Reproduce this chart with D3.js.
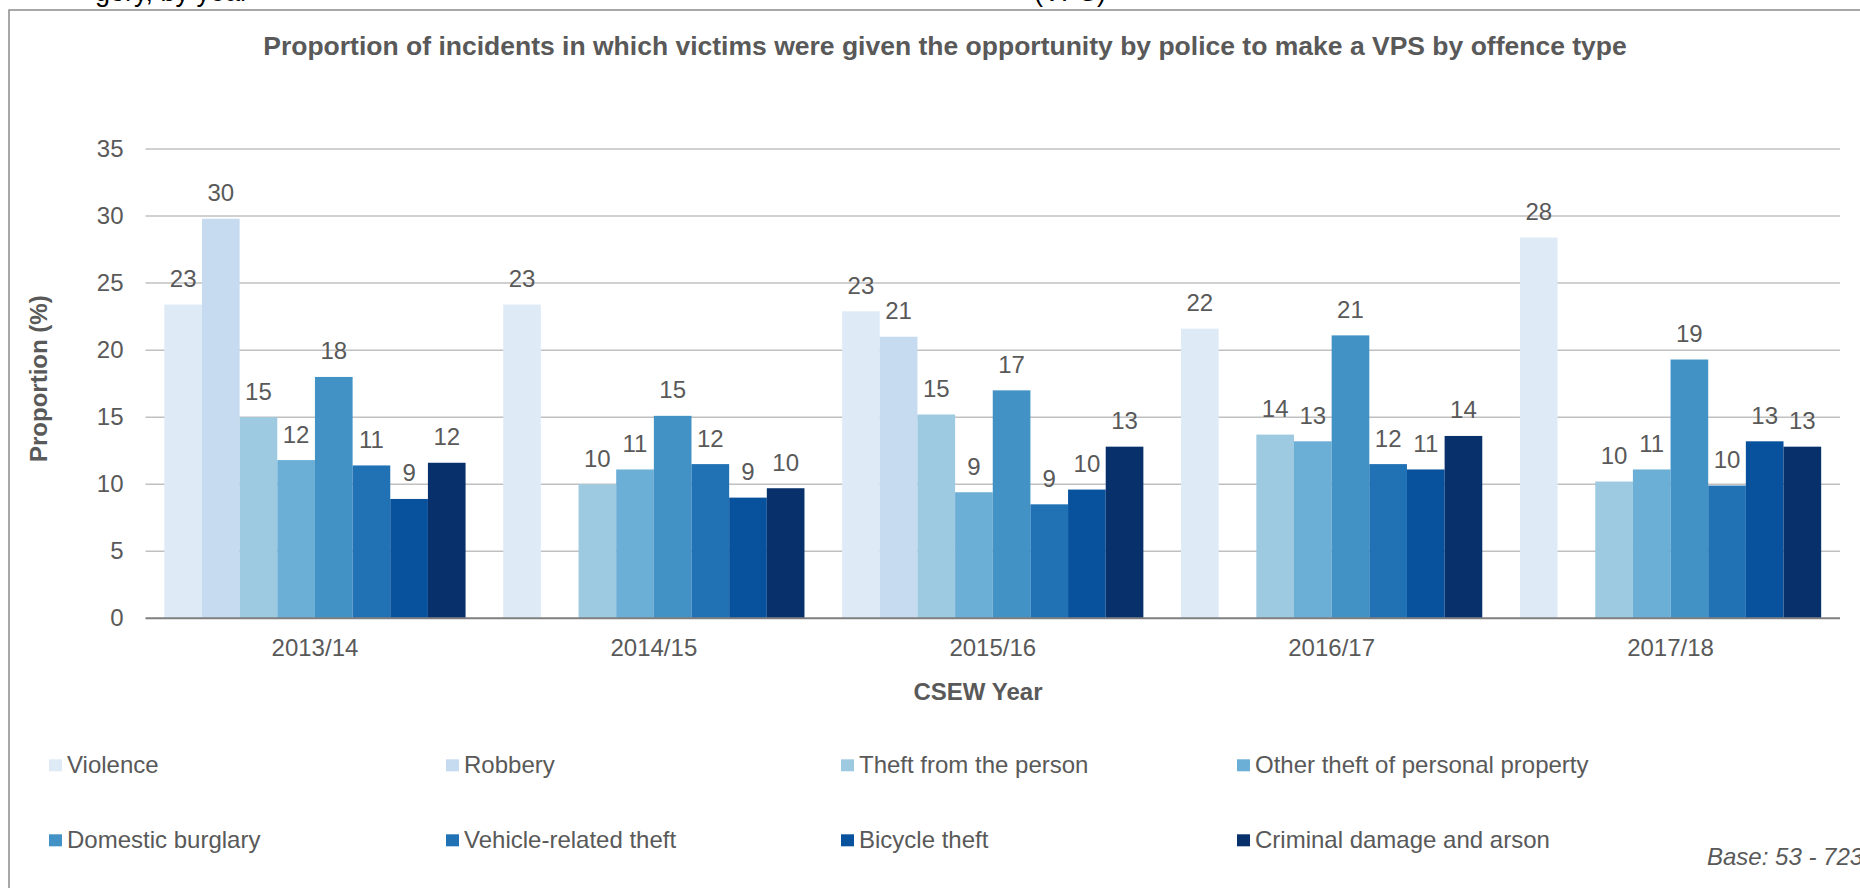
<!DOCTYPE html>
<html>
<head>
<meta charset="utf-8">
<script src="https://cdn.jsdelivr.net/npm/d3@7"></script>
<style>
  html, body { margin: 0; padding: 0; background: #ffffff; }
  svg { display: block; }
  text { font-family: "Liberation Sans", Arial, sans-serif; }
</style>
</head>
<body>
<script>
// ---- Data ----
const years = ["2013/14", "2014/15", "2015/16", "2016/17", "2017/18"];
const offenceTypes = [
  "Violence", "Robbery", "Theft from the person", "Other theft of personal property",
  "Domestic burglary", "Vehicle-related theft", "Bicycle theft", "Criminal damage and arson"
];
const violence        = [23.4, 23.4, 22.9, 21.6, 28.4];
const robbery         = [29.8, null, 21.0, null, null];
const theftFromPerson = [15.0, 10.0, 15.2, 13.7, 10.2];
const otherTheft      = [11.8, 11.1, 9.4, 13.2, 11.1];
const domesticBurglary= [18.0, 15.1, 17.0, 21.1, 19.3];
const vehicleTheft    = [11.4, 11.5, 8.5, 11.5, 9.9];
const bicycleTheft    = [8.9, 9.0, 9.6, 11.1, 13.2];
const criminalDamage  = [11.6, 9.7, 12.8, 13.6, 12.8];
const yTicks = [0, 5, 10, 15, 20, 25, 30, 35];
const seriesColors = ["#deebf7", "#c6dbef", "#9ecae1", "#6baed6", "#4292c6", "#2171b5", "#08519c", "#08306b"];

const seriesValues = [violence, robbery, theftFromPerson, otherTheft,
  domesticBurglary, vehicleTheft, bicycleTheft, criminalDamage];

// ---- Layout ----
const W = 1860, H = 888;
const plot = { left: 145.5, right: 1840, top: 149, bottom: 618.3 };
const textGray = "#595959";

const svg = d3.select("body").append("svg").attr("width", W).attr("height", H);

// cut-off text from preceding document line
svg.append("text").attr("x", 95).attr("y", 1).attr("font-size", 27).attr("fill", "#000")
  .text("gory, by year");
svg.append("text").attr("x", 1034).attr("y", 1).attr("font-size", 27).attr("fill", "#000")
  .text("(VPS)");

// chart border (extends beyond the picture at right and bottom)
svg.append("rect").attr("x", 9).attr("y", 10).attr("width", 1900).attr("height", 1000)
  .attr("fill", "none").attr("stroke", "#8c8c8c").attr("stroke-width", 1.5);

// title
svg.append("text").attr("x", 945).attr("y", 55).attr("text-anchor", "middle")
  .attr("font-size", 26.5).attr("font-weight", "bold").attr("fill", textGray)
  .text("Proportion of incidents in which victims were given the opportunity by police to make a VPS by offence type");

// scales
const x0 = d3.scaleBand().domain(years).range([plot.left, plot.right])
  .paddingInner(1 / 9).paddingOuter(1 / 18);
const x1 = d3.scaleBand().domain(d3.range(offenceTypes.length)).range([0, x0.bandwidth()]);
const y = d3.scaleLinear().domain([0, 35]).range([plot.bottom, plot.top]);

// gridlines
svg.append("g").selectAll("line").data(yTicks.filter(d => d > 0)).join("line")
  .attr("x1", plot.left).attr("x2", plot.right)
  .attr("y1", d => y(d)).attr("y2", d => y(d))
  .attr("stroke", "#c0c0c0").attr("stroke-width", 1.5);

// y axis labels
const yAxis = d3.axisLeft(y).tickValues(yTicks).tickSize(0).tickPadding(22);
svg.append("g").attr("transform", `translate(${plot.left},0)`).call(yAxis)
  .call(g => g.select(".domain").remove())
  .call(g => g.selectAll("text").attr("font-size", 24).attr("fill", textGray)
    .attr("font-family", "Liberation Sans, Arial, sans-serif"));

// bars
const groups = svg.append("g").selectAll("g").data(years).join("g")
  .attr("transform", d => `translate(${x0(d)},0)`);

groups.each(function (yr, yi) {
  const g = d3.select(this);
  const rows = seriesValues.map((s, si) => ({ si, v: s[yi] })).filter(d => d.v != null);
  g.selectAll("rect").data(rows).join("rect")
    .attr("x", d => x1(d.si)).attr("width", x1.bandwidth())
    .attr("y", d => y(d.v)).attr("height", d => y(0) - y(d.v))
    .attr("fill", d => seriesColors[d.si]);
  g.selectAll("text").data(rows).join("text")
    .attr("x", d => x1(d.si) + x1.bandwidth() / 2)
    .attr("y", d => y(d.v) - 17.5)
    .attr("text-anchor", "middle").attr("font-size", 24).attr("fill", textGray)
    .text(d => Math.round(d.v));
});

// x axis baseline
svg.append("line").attr("x1", plot.left).attr("x2", plot.right)
  .attr("y1", y(0)).attr("y2", y(0)).attr("stroke", "#7f7f7f").attr("stroke-width", 2);

// x axis labels
const xAxis = d3.axisBottom(x0).tickSize(0).tickPadding(21);
svg.append("g").attr("transform", `translate(0,${y(0)})`).call(xAxis)
  .call(g => g.select(".domain").remove())
  .call(g => g.selectAll("text").attr("font-size", 24).attr("fill", textGray)
    .attr("font-family", "Liberation Sans, Arial, sans-serif"));

// axis titles
svg.append("text").attr("x", 978).attr("y", 700).attr("text-anchor", "middle")
  .attr("font-size", 24).attr("font-weight", "bold").attr("fill", textGray)
  .text("CSEW Year");
svg.append("text").attr("transform", "translate(38.5,378.7) rotate(-90)")
  .attr("text-anchor", "middle").attr("dy", "0.35em")
  .attr("font-size", 24).attr("font-weight", "bold").attr("fill", textGray)
  .text("Proportion (%)");

// legend
const legCols = [49, 446, 841, 1237];
const legRows = [773.3, 848.3];
const leg = svg.append("g").selectAll("g").data(offenceTypes).join("g")
  .attr("transform", (d, i) => `translate(${legCols[i % 4]},${legRows[Math.floor(i / 4)]})`);
leg.append("rect").attr("x", 0).attr("y", -14).attr("width", 13).attr("height", 12)
  .attr("fill", (d, i) => seriesColors[i]);
leg.append("text").attr("x", 18).attr("y", 0).attr("font-size", 24).attr("fill", textGray)
  .text(d => d);

// base note
svg.append("text").attr("x", 1707).attr("y", 865).attr("font-size", 24)
  .attr("font-style", "italic").attr("fill", textGray).text("Base: 53 - 723");
</script>
</body>
</html>
